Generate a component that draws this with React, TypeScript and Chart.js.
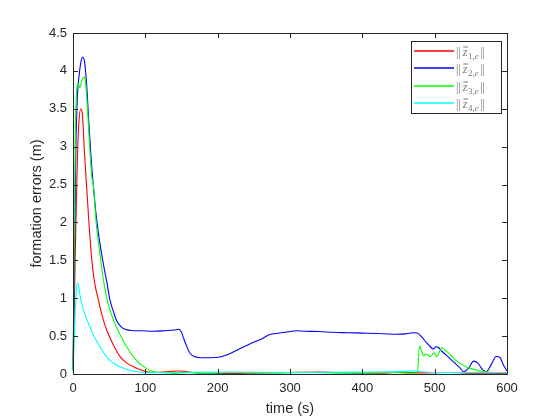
import { useEffect, useRef } from "react";
import { Chart, registerables } from "chart.js";

Chart.register(...registerables);

// ---------- data ----------
const xTickValues = [0, 100, 200, 300, 400, 500, 600];
const yTickValues = [0, 0.5, 1, 1.5, 2, 2.5, 3, 3.5, 4, 4.5];

const seriesLabels = ["||z̄1,e||", "||z̄2,e||", "||z̄3,e||", "||z̄4,e||"];
const legendSubscripts = ["1,e", "2,e", "3,e", "4,e"];
const seriesColors = ["#ff0000", "#0000ff", "#00ff00", "#00ffff"];

const redT = [0, 2, 4, 6, 8, 11, 13, 16, 19, 22, 26, 30, 35, 40, 46.5, 55, 65, 75, 88, 102, 115, 130, 145, 155, 165, 180, 200, 240, 300, 340, 380, 420, 450, 480, 520, 560, 600];
const redY = [0.05, 1.0, 2.0, 2.8, 3.3, 3.5, 3.42, 2.9, 2.45, 2.0, 1.5, 1.2, 0.98, 0.78, 0.58, 0.4, 0.23, 0.14, 0.075, 0.03, 0.02, 0.03, 0.04, 0.035, 0.02, 0.01, 0.005, 0.01, 0.02, 0.025, 0.015, 0.01, 0.02, 0.015, 0.02, 0.01, 0.01];

const blueT = [0, 2, 4, 6, 8, 11, 13.5, 16, 19, 22, 25, 28, 32, 36, 42, 47, 51, 56, 60, 66, 72, 80, 95, 111, 125, 140, 146, 150, 153, 157, 162, 168, 176, 190, 201, 215, 230, 245, 260, 272, 285, 300, 308, 320, 340, 360, 380, 400, 420, 447, 460, 470, 476, 482, 489, 494, 498, 502, 505, 510, 516, 525, 535, 540, 547, 554, 560, 566, 571, 578, 585, 590, 595, 600];
const blueY = [0.05, 1.5, 3.0, 3.65, 3.9, 4.12, 4.18, 4.12, 3.8, 3.3, 2.85, 2.5, 2.1, 1.8, 1.45, 1.2, 0.98, 0.82, 0.71, 0.63, 0.59, 0.575, 0.57, 0.565, 0.57, 0.58, 0.59, 0.55, 0.47, 0.37, 0.27, 0.23, 0.215, 0.215, 0.22, 0.26, 0.33, 0.4, 0.46, 0.52, 0.54, 0.56, 0.57, 0.565, 0.56, 0.55, 0.545, 0.54, 0.535, 0.525, 0.53, 0.545, 0.54, 0.49, 0.41, 0.36, 0.33, 0.36, 0.35, 0.3, 0.25, 0.17, 0.08, 0.03, 0.08, 0.17, 0.14, 0.06, 0.03, 0.12, 0.23, 0.22, 0.12, 0.04];

const greenT = [0, 1.5, 3, 5, 7, 9.5, 12, 15, 17, 20, 23, 26, 28, 32, 37, 42, 48, 56, 65, 74, 85, 97, 108, 120, 140, 160, 180, 220, 280, 330, 380, 440, 474, 476, 479, 482, 484, 487, 490, 494, 499, 503, 507, 510, 515, 521, 528, 535, 545, 553, 562, 571, 585, 600];
const greenY = [0.05, 1.5, 3.0, 3.75, 3.84, 3.78, 3.86, 3.92, 3.88, 3.5, 3.0, 2.6, 2.5, 2.0, 1.6, 1.24, 0.95, 0.71, 0.52, 0.36, 0.21, 0.1, 0.04, 0.02, 0.01, 0.02, 0.01, 0.02, 0.015, 0.02, 0.01, 0.02, 0.01, 0.01, 0.37, 0.3, 0.24, 0.26, 0.25, 0.23, 0.28, 0.23, 0.3, 0.35, 0.31, 0.26, 0.19, 0.14, 0.09, 0.065, 0.04, 0.03, 0.02, 0.02];

const cyanT = [0, 2, 4, 6, 8, 10, 12, 16, 20, 23.5, 30, 37, 44, 51, 60, 70, 80, 88, 100, 120, 200, 300, 400, 460, 470, 480, 500, 600];
const cyanY = [0.05, 0.5, 1.0, 1.2, 1.15, 1.02, 0.93, 0.8, 0.7, 0.62, 0.48, 0.36, 0.26, 0.18, 0.12, 0.075, 0.045, 0.03, 0.02, 0.02, 0.025, 0.02, 0.025, 0.035, 0.04, 0.03, 0.02, 0.02];

const seriesT = [redT, blueT, greenT, cyanT];
const seriesY = [redY, blueY, greenY, cyanY];

// ---------- plugins ----------
const AXIS_COLOR = "#262626";
const TICK_LEN = 5;

const boxPlugin = {
  id: "matlabBox",
  afterDraw(chart: any) {
    const { ctx, chartArea } = chart;
    const { left, right, top, bottom } = chartArea;
    const xs = chart.scales.x;
    const ys = chart.scales.y;
    ctx.save();
    ctx.strokeStyle = AXIS_COLOR;
    ctx.lineWidth = 1;
    ctx.beginPath();
    ctx.rect(Math.round(left) + 0.5, Math.round(top) + 0.5, Math.round(right - left), Math.round(bottom - top));
    ctx.stroke();
    ctx.beginPath();
    xTickValues.forEach((v) => {
      const px = Math.round(xs.getPixelForValue(v)) + 0.5;
      ctx.moveTo(px, bottom);
      ctx.lineTo(px, bottom - TICK_LEN);
      ctx.moveTo(px, top);
      ctx.lineTo(px, top + TICK_LEN);
    });
    yTickValues.forEach((v) => {
      const py = Math.round(ys.getPixelForValue(v)) + 0.5;
      ctx.moveTo(left, py);
      ctx.lineTo(left + TICK_LEN, py);
      ctx.moveTo(right, py);
      ctx.lineTo(right - TICK_LEN, py);
    });
    ctx.stroke();
    ctx.restore();
  },
};

const legendPlugin = {
  id: "matlabLegend",
  afterDraw(chart: any) {
    const { ctx, chartArea } = chart;
    const boxRight = chartArea.right - 6;
    const boxLeft = boxRight - 90;
    const boxTop = chartArea.top + 8;
    const rowH = 17.3;
    const boxH = 72;
    ctx.save();
    ctx.fillStyle = "#ffffff";
    ctx.fillRect(boxLeft, boxTop, boxRight - boxLeft, boxH);
    ctx.strokeStyle = AXIS_COLOR;
    ctx.lineWidth = 1;
    ctx.strokeRect(Math.round(boxLeft) + 0.5, Math.round(boxTop) + 0.5, Math.round(boxRight - boxLeft), boxH);
    seriesLabels.forEach((_label, i) => {
      const cy = Math.round(boxTop + 10 + i * rowH);
      ctx.strokeStyle = seriesColors[i];
      ctx.lineWidth = 1.4;
      ctx.beginPath();
      ctx.moveTo(boxLeft + 3, cy);
      ctx.lineTo(boxLeft + 43, cy);
      ctx.stroke();
      // text: ||z̄_{i,e}||
      let x = boxLeft + 45;
      const base = cy + 4.5;
      ctx.fillStyle = "#7a7a7a";
      ctx.textBaseline = "alphabetic";
      ctx.font = "12px 'Liberation Serif', 'DejaVu Serif', serif";
      ctx.fillText("||", x, base);
      x += ctx.measureText("||").width + 2;
      ctx.font = "italic 12px 'Liberation Serif', 'DejaVu Serif', serif";
      ctx.fillText("z", x, base);
      const zw = ctx.measureText("z").width;
      ctx.strokeStyle = "#7a7a7a";
      ctx.lineWidth = 1;
      ctx.beginPath();
      ctx.moveTo(x + 0.5, base - 8.5);
      ctx.lineTo(x + zw + 0.5, base - 8.5);
      ctx.stroke();
      x += zw + 0.5;
      ctx.font = "9px 'Liberation Serif', 'DejaVu Serif', serif";
      const parts = legendSubscripts[i].split(",");
      ctx.fillText(parts[0] + ",", x, base + 3);
      x += ctx.measureText(parts[0] + ",").width;
      ctx.font = "italic 9px 'Liberation Serif', 'DejaVu Serif', serif";
      ctx.fillText(parts[1], x, base + 3);
      x += ctx.measureText(parts[1]).width + 1.5;
      ctx.font = "12px 'Liberation Serif', 'DejaVu Serif', serif";
      ctx.fillText("||", x, base);
    });
    ctx.restore();
  },
};

export default function App() {
  const ref = useRef<HTMLCanvasElement | null>(null);

  useEffect(() => {
    document.body.style.margin = "0";
    const canvas = ref.current;
    if (!canvas) return;
    const tickFont = { family: "'Liberation Sans', Arial, sans-serif", size: 13 };
    const titleFont = { family: "'Liberation Sans', Arial, sans-serif", size: 14.5 };
    const orders = [4, 3, 2, 1];
    const chart = new Chart(canvas, {
      type: "line",
      data: {
        datasets: seriesLabels.map((label, i) => ({
          label,
          data: seriesT[i].map((t, j) => ({ x: t, y: seriesY[i][j] })),
          borderColor: seriesColors[i],
          backgroundColor: seriesColors[i],
          borderWidth: 1.1,
          pointRadius: 0,
          fill: false,
          cubicInterpolationMode: "monotone" as const,
          order: orders[i],
          clip: 3,
        })),
      },
      options: {
        responsive: false,
        animation: false,
        devicePixelRatio: 1,
        layout: { padding: { top: 33, right: 53, left: 0, bottom: 0 } },
        plugins: {
          legend: { display: false },
          tooltip: { enabled: false },
        },
        scales: {
          x: {
            type: "linear",
            min: 0,
            max: 600,
            afterFit: (s: any) => {
              s.height = 46;
            },
            afterBuildTicks: (s: any) => {
              s.ticks = xTickValues.map((v) => ({ value: v }));
            },
            ticks: { color: AXIS_COLOR, font: tickFont, padding: 7, maxRotation: 0, callback: (v: any) => String(v) },
            grid: { display: false, drawTicks: false },
            border: { display: false },
            title: { display: true, text: "time (s)", color: AXIS_COLOR, font: titleFont, padding: { top: 0, bottom: 2 } },
          },
          y: {
            type: "linear",
            min: 0,
            max: 4.5,
            afterFit: (s: any) => {
              s.width = 73;
            },
            afterBuildTicks: (s: any) => {
              s.ticks = yTickValues.map((v) => ({ value: v }));
            },
            ticks: { color: AXIS_COLOR, font: tickFont, padding: 6, callback: (v: any) => String(v) },
            grid: { display: false, drawTicks: false },
            border: { display: false },
            title: { display: true, text: "formation errors (m)", color: AXIS_COLOR, font: titleFont, padding: { top: 28, bottom: 0 } },
          },
        },
      },
      plugins: [boxPlugin, legendPlugin],
    });
    return () => chart.destroy();
  }, []);

  return <canvas ref={ref} width={560} height={420} style={{ display: "block", width: 560, height: 420 }} />;
}
